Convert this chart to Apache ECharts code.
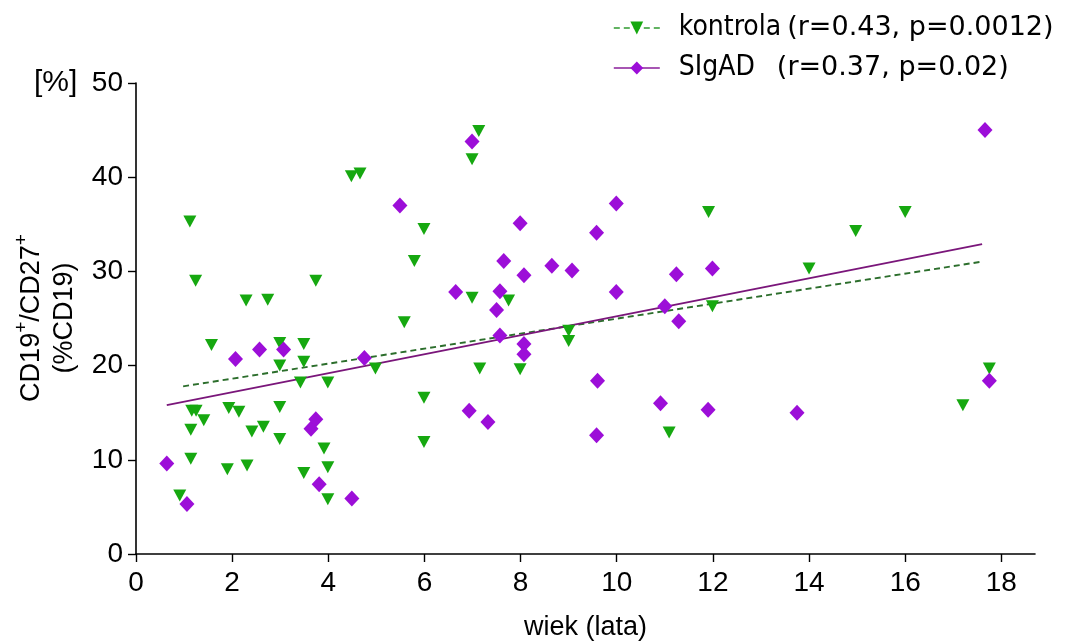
<!DOCTYPE html>
<html>
<head>
<meta charset="utf-8">
<script src="https://cdn.jsdelivr.net/npm/echarts@6/dist/echarts.min.js"></script>
<style>
  html, body { margin: 0; padding: 0; background: #fff; }
  #chart { width: 1070px; height: 641px; }
</style>
</head>
<body>
<div id="chart"></div>
<script>
// Age (years) vs CD19+/CD27+ share (% of CD19) — control group
const kontrolaPoints = [
  [0.91, 6.2], [1.12, 35.3], [1.24, 29.0], [1.14, 13.2], [1.14, 10.1],
  [1.16, 15.2], [1.25, 15.2], [1.41, 14.2], [1.57, 22.2], [1.90, 9.0],
  [1.93, 15.5], [2.14, 15.1], [2.29, 26.9], [2.31, 9.4], [2.41, 13.0],
  [2.65, 13.5], [2.74, 27.0], [2.99, 22.4], [2.99, 20.0], [2.99, 15.6],
  [2.99, 12.2], [3.42, 18.2], [3.49, 22.3], [3.49, 20.4], [3.49, 8.6],
  [3.74, 29.0], [3.91, 11.2], [3.99, 18.2], [3.99, 9.2], [3.99, 5.8],
  [4.48, 40.1], [4.66, 40.4], [4.98, 19.7], [5.58, 24.6], [5.79, 31.1],
  [5.99, 34.5], [5.99, 16.6], [5.99, 11.9], [6.99, 41.9], [7.13, 44.9],
  [6.99, 27.2], [7.75, 26.9], [7.15, 19.7], [7.99, 19.6], [9.00, 23.7],
  [9.00, 22.6], [11.09, 12.9], [11.91, 36.3], [11.99, 26.3], [14.00, 30.3],
  [14.97, 34.3], [16.00, 36.3], [17.20, 15.8], [17.75, 19.7]
];

// SIgAD group
const sigadPoints = [
  [0.64, 9.6], [1.06, 5.3], [2.07, 20.7], [2.57, 21.7], [3.07, 21.7],
  [3.64, 13.3], [3.74, 14.3], [3.81, 7.4], [4.49, 5.9], [4.75, 20.8],
  [5.49, 37.0], [6.65, 27.8], [6.93, 15.2], [6.99, 43.8], [7.32, 14.0],
  [7.50, 25.9], [7.57, 27.9], [7.57, 23.2], [7.65, 31.1], [7.99, 35.1],
  [8.07, 29.6], [8.07, 22.3], [8.07, 21.2], [8.65, 30.6], [9.07, 30.1],
  [9.58, 34.1], [9.60, 18.4], [9.58, 12.6], [9.99, 37.2], [9.99, 27.8],
  [10.91, 16.0], [11.00, 26.3], [11.24, 29.7], [11.29, 24.7], [11.90, 15.3],
  [11.99, 30.3], [13.75, 15.0], [17.66, 45.0], [17.75, 18.4]
];

// Regression line end points
const kontrolaFit = [[0.98, 17.8], [17.55, 31.0]];
const sigadFit = [[0.64, 15.8], [17.60, 32.9]];

// Axis ticks
const xTicks = [0, 2, 4, 6, 8, 10, 12, 14, 16, 18];
const yTicks = [0, 10, 20, 30, 40, 50];

// Legend texts
const legendNames = ['kontrola', 'SIgAD'];
const legendStats = ['(r=0.43, p=0.0012)', '(r=0.37, p=0.02)'];

const GREEN = '#16a810';
const GREEN_LINE = '#2c6e2c';
const PURPLE = '#9c0ed8';
const PURPLE_LINE = '#7a167a';
const FONT = '"Liberation Sans", Arial, sans-serif';

const chart = echarts.init(document.getElementById('chart'), null, { renderer: 'canvas' });

chart.setOption({
  animation: false,
  backgroundColor: '#ffffff',
  grid: { left: 136, right: 35, top: 83, bottom: 87, containLabel: false, outerBoundsMode: 'none' },
  xAxis: {
    type: 'value',
    min: 0,
    max: 18.7,
    interval: 2,
    splitLine: { show: false },
    axisLine: { show: true, onZero: false, lineStyle: { color: '#000', width: 1.6 } },
    axisTick: { show: true, length: 8, customValues: xTicks, lineStyle: { color: '#000', width: 1.4 } },
    axisLabel: {
      customValues: xTicks, margin: 15, color: '#000',
      fontFamily: FONT, fontSize: 28
    },
    name: 'wiek (lata)',
    nameLocation: 'middle',
    nameGap: 60,
    nameTextStyle: { color: '#000', fontFamily: FONT, fontSize: 27 }
  },
  yAxis: {
    type: 'value',
    min: 0,
    max: 50,
    interval: 10,
    splitLine: { show: false },
    axisLine: { show: true, onZero: false, lineStyle: { color: '#000', width: 1.6 } },
    axisTick: { show: true, length: 8, customValues: yTicks, lineStyle: { color: '#000', width: 1.4 } },
    axisLabel: {
      customValues: yTicks, margin: 13, color: '#000',
      fontFamily: FONT, fontSize: 28
    }
  },
  legend: {
    orient: 'vertical',
    left: 608,
    top: 9,
    itemWidth: 46,
    itemHeight: 16,
    itemGap: 12,
    selectedMode: false,
    data: [
      {
        name: legendNames[0],
        itemStyle: { color: GREEN },
        lineStyle: { color: '#2f9a2f', type: [6, 4], width: 1.6 }
      },
      {
        name: legendNames[1],
        itemStyle: { color: PURPLE },
        lineStyle: { color: '#8a1e9a', type: 'solid', width: 1.6 }
      }
    ],
    formatter: function (name) {
      const i = legendNames.indexOf(name);
      return '{n|' + name + '}{' + (i === 0 ? 's' : 't') + '|' + legendStats[i] + '}';
    },
    textStyle: {
      color: '#000',
      rich: {
        n: { fontFamily: '"DejaVu Sans Condensed", "DejaVu Sans", sans-serif', fontSize: 28, lineHeight: 34, padding: [0, 0, 0, 14], color: '#000' },
        s: { fontFamily: '"DejaVu Sans", sans-serif', fontSize: 27, lineHeight: 34, padding: [0, 0, 0, 6], color: '#000' },
        t: { fontFamily: '"DejaVu Sans", sans-serif', fontSize: 27, lineHeight: 34, padding: [0, 0, 0, 22], color: '#000' }
      }
    }
  },
  graphic: [
    {
      type: 'text',
      left: 34,
      top: 68,
      style: { text: '[%]', fill: '#000', font: '30px "Liberation Sans", Arial, sans-serif' }
    },
    {
      type: 'text',
      x: 45,
      y: 318,
      rotation: Math.PI / 2,
      style: {
        text: '{a|CD19}{p|+}{a|/CD27}{p|+}\n{a|(%CD19)}',
        align: 'center',
        verticalAlign: 'middle',
        fill: '#000',
        rich: {
          a: { fontFamily: FONT, fontSize: 27, lineHeight: 33, fill: '#000', verticalAlign: 'bottom' },
          p: { fontFamily: FONT, fontSize: 19, lineHeight: 33, fill: '#000', verticalAlign: 'top' }
        }
      }
    }
  ],
  series: [
    {
      name: legendNames[0],
      type: 'line',
      data: kontrolaFit,
      showSymbol: false,
      symbol: 'triangle',
      symbolRotate: 180,
      silent: true,
      z: 2,
      itemStyle: { color: GREEN },
      lineStyle: { color: GREEN_LINE, width: 1.9, type: [6, 4] }
    },
    {
      name: legendNames[1],
      type: 'line',
      data: sigadFit,
      showSymbol: false,
      symbol: 'diamond',
      silent: true,
      z: 2,
      itemStyle: { color: PURPLE },
      lineStyle: { color: PURPLE_LINE, width: 1.9, type: 'solid' }
    },
    {
      name: legendNames[0],
      type: 'scatter',
      data: kontrolaPoints,
      symbol: 'triangle',
      symbolRotate: 180,
      symbolSize: [13, 12],
      z: 3,
      itemStyle: { color: GREEN, opacity: 1 }
    },
    {
      name: legendNames[1],
      type: 'scatter',
      data: sigadPoints,
      symbol: 'diamond',
      symbolSize: [15, 16],
      z: 3,
      itemStyle: { color: PURPLE, opacity: 1 }
    }
  ]
});
</script>
</body>
</html>
